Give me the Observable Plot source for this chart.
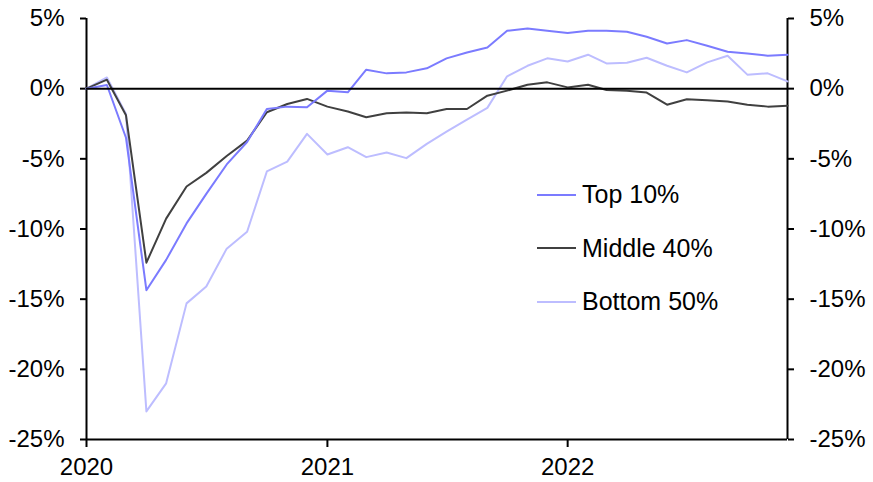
<!DOCTYPE html>
<html>
<head>
<meta charset="utf-8">
<script src="https://cdn.jsdelivr.net/npm/d3@7"></script>
<script src="https://cdn.jsdelivr.net/npm/@observablehq/plot@0.6"></script>
<style>
  body { margin: 0; background: white; }
  #wrap { position: relative; width: 873px; height: 482px; font-family: "Liberation Sans", Arial, sans-serif; }
  #legend { position: absolute; left: 537px; top: 168px; }
  .row { display: flex; align-items: center; height: 53.5px; font-size: 25px; color: black; }
  .sw { width: 39px; height: 2px; margin-right: 6px; }
</style>
</head>
<body>
<div id="wrap"></div>
<script>
const seriesNames = ["Top 10%", "Middle 40%", "Bottom 50%"];
const seriesColors = ["#7b7bff", "#404040", "#bdbdff"];

const top10 = [0, 0.26, -3.5, -14.36, -12.2, -9.6, -7.5, -5.4, -3.8, -1.45, -1.28, -1.33,
  -0.14, -0.26, 1.35, 1.09, 1.16, 1.45, 2.16, 2.58, 2.94, 4.12, 4.29, 4.12,
  3.96, 4.12, 4.12, 4.05, 3.7, 3.22, 3.46, 3.06, 2.63, 2.51, 2.35, 2.42];
const middle40 = [0, 0.64, -1.9, -12.4, -9.26, -6.97, -6.0, -4.8, -3.7, -1.68, -1.09, -0.73,
  -1.28, -1.63, -2.04, -1.75, -1.7, -1.75, -1.45, -1.45, -0.5, -0.14, 0.28, 0.45,
  0.09, 0.28, -0.09, -0.14, -0.28, -1.14, -0.76, -0.83, -0.92, -1.14, -1.28, -1.21];
const bottom50 = [0, 0.8, -1.8, -23.0, -21.0, -15.3, -14.1, -11.4, -10.2, -5.9, -5.2, -3.22,
  -4.69, -4.17, -4.88, -4.55, -4.95, -3.93, -3.06, -2.2, -1.37, 0.88, 1.63, 2.16,
  1.94, 2.42, 1.8, 1.85, 2.2, 1.63, 1.16, 1.87, 2.35, 1.0, 1.09, 0.52];

const months = d3.utcMonths(new Date(Date.UTC(2020, 0, 1)), new Date(Date.UTC(2023, 0, 1)));
const yTicks = [5, 0, -5, -10, -15, -20, -25];
const xTickYears = [2020, 2021, 2022];
const xTicks = xTickYears.map(y => new Date(Date.UTC(y, 0, 1)));

const allSeries = [top10, middle40, bottom50];
const rows = allSeries.map((vals, s) => vals.map((v, i) => ({date: months[i], value: v, series: seriesNames[s]})));

const x0 = months[0], x1 = months[months.length - 1];

const axisCommon = {ticks: yTicks, tickFormat: d => d + "%", tickSize: 6, tickPadding: 16, fontSize: 24, strokeWidth: 2, label: null};

const chart = Plot.plot({
  width: 873, height: 482,
  marginLeft: 86, marginRight: 86, marginTop: 18, marginBottom: 43,
  style: {fontFamily: "'Liberation Sans', Arial, sans-serif", fontSize: "24px", color: "black", background: "white", overflow: "visible"},
  x: {type: "utc", domain: [x0, x1]},
  y: {domain: [-25, 5]},
  marks: [
    Plot.axisY({anchor: "left", ...axisCommon}),
    Plot.axisY({anchor: "right", ...axisCommon}),
    Plot.axisX({ticks: xTicks, tickFormat: "%Y", tickSize: 8, tickPadding: 10, fontSize: 24, strokeWidth: 2, label: null}),
    Plot.ruleX([x0, x1], {stroke: "black", strokeWidth: 2}),
    Plot.ruleY([-25], {stroke: "black", strokeWidth: 2}),
    Plot.line(rows[2], {x: "date", y: "value", stroke: seriesColors[2], strokeWidth: 2}),
    Plot.line(rows[1], {x: "date", y: "value", stroke: seriesColors[1], strokeWidth: 2}),
    Plot.line(rows[0], {x: "date", y: "value", stroke: seriesColors[0], strokeWidth: 2}),
    Plot.ruleY([0], {stroke: "black", strokeWidth: 2})
  ]
});

const wrap = document.getElementById("wrap");
wrap.appendChild(chart);
const legend = document.createElement("div");
legend.id = "legend";
seriesNames.forEach((n, i) => {
  const r = document.createElement("div");
  r.className = "row";
  const sw = document.createElement("span");
  sw.className = "sw";
  sw.style.background = seriesColors[i];
  const t = document.createElement("span");
  t.textContent = n;
  r.appendChild(sw); r.appendChild(t);
  legend.appendChild(r);
});
wrap.appendChild(legend);
</script>
</body>
</html>
